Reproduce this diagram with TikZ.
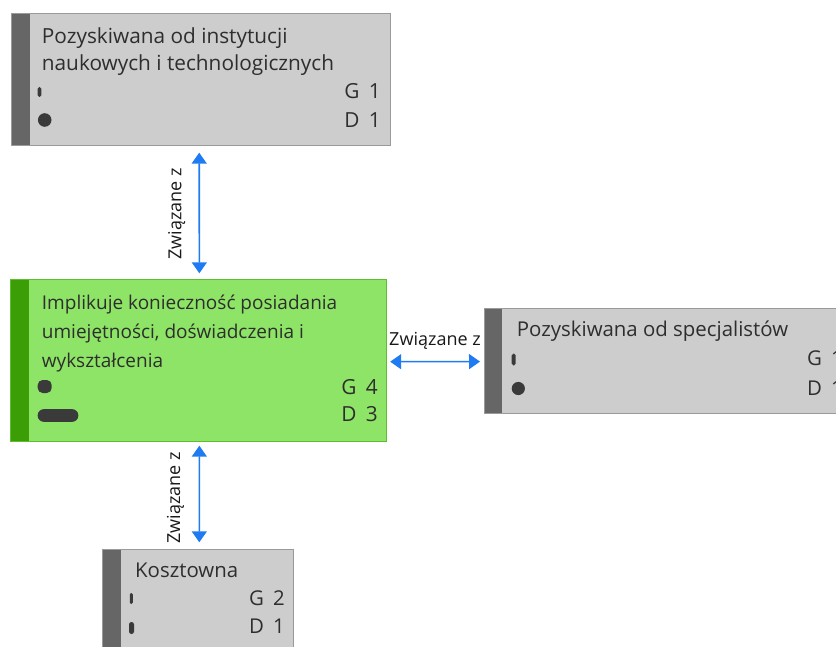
\documentclass[tikz,border=0pt]{standalone}
\usepackage{fontspec}
\setmainfont{Open Sans}
\usetikzlibrary{arrows.meta}

\definecolor{boxgray}{HTML}{CDCDCD}
\definecolor{boxedge}{HTML}{9A9A9A}
\definecolor{bargray}{HTML}{666666}
\definecolor{greenfill}{HTML}{8DE466}
\definecolor{greenedge}{HTML}{5EBE30}
\definecolor{greenbar}{HTML}{3C9E06}
\definecolor{ink}{HTML}{2E2E2E}
\definecolor{markink}{HTML}{3A3A3A}
\definecolor{linkblue}{HTML}{1E7BF2}

\tikzset{
  card/.style={draw=boxedge, fill=boxgray, line width=1pt, inner sep=0pt, outer sep=0pt,
    anchor=north west,
    path picture={\fill[bargray] (path picture bounding box.north west)
      rectangle ([xshift=18pt]path picture bounding box.south west);}},
  greencard/.style={card, draw=greenedge, fill=greenfill,
    path picture={\fill[greenbar] (path picture bounding box.north west)
      rectangle ([xshift=19pt]path picture bounding box.south west);}},
  txt/.style={text=ink, inner sep=0pt, anchor=base west, font=\fontsize{20.4}{28}\selectfont},
  bigtxt/.style={txt, font=\fontsize{20.8}{28}\selectfont},
  smalltxt/.style={txt, font=\fontsize{19}{28}\selectfont},
  count/.style={anchor=base east},
  lbl/.style={text=black!90, inner sep=0pt, font=\fontsize{18}{22}\selectfont},
  dot/.style={fill=markink},
  link/.style={draw=linkblue, line width=1.6pt,
    {Triangle[width=15pt,length=11pt]}-{Triangle[width=15pt,length=11pt]}},
}

\begin{document}
\begin{tikzpicture}[x=1pt, y=-1pt]
\useasboundingbox (0,0) rectangle (836,647);
\clip (0,0) rectangle (836,647);

% boxes
\node[card, minimum width=379pt, minimum height=132.4pt] (top) at (11.7,13.3) {};
\node[greencard, minimum width=376.7pt, minimum height=162.4pt] (mid) at (10,279.3) {};
\node[card, minimum width=367pt, minimum height=105pt] (right) at (484.3,308.3) {};
\node[card, minimum width=190.6pt, minimum height=130pt] (low) at (102.7,549.3) {};

% top box content
\node[bigtxt] (top1) at (41.7,43.3) {Pozyskiwana od instytucji};
\node[bigtxt] (top2) at (41.7,71) {naukowych i technologicznych};
\node[bigtxt, count] (topg) at (381,98.3) {G\hspace{0.45em}1};
\node[bigtxt, count] (topd) at (381,128) {D\hspace{0.45em}1};
\fill[dot, rounded corners=1.7pt] (37.7,87) rectangle (41.3,97);
\fill[dot] (44.7,120) circle (6.8pt);

% green box content
\node[smalltxt] (mid1) at (41.7,310) {Implikuje konieczność posiadania};
\node[smalltxt] (mid2) at (41.7,338.3) {umiejętności, doświadczenia i};
\node[smalltxt] (mid3) at (41.7,367) {wykształcenia};
\node[bigtxt, count] (midg) at (378,394) {G\hspace{0.45em}4};
\node[bigtxt, count] (midd) at (378,421.7) {D\hspace{0.45em}3};
\fill[dot, rounded corners=5pt] (37.7,380) rectangle (51.7,393);
\fill[dot, rounded corners=6pt] (37.7,409.2) rectangle (78.3,421.8);

% right box content (runs past the right edge)
\node[txt] (right1) at (516.7,336.7) {Pozyskiwana od specjalistów};
\node[txt, count] (rightg) at (843,365.7) {G\hspace{0.45em}1};
\node[txt, count] (rightd) at (843,395) {D\hspace{0.45em}1};
\fill[dot, rounded corners=1.9pt] (511.7,353.5) rectangle (515.7,365.5);
\fill[dot] (518.3,388.5) circle (6.6pt);

% bottom box content (runs past the lower edge)
\node[txt] (low1) at (135,577.3) {Kosztowna};
\node[txt, count] (lowg) at (285,605) {G\hspace{0.45em}2};
\node[txt, count] (lowd) at (285,633) {D\hspace{0.45em}1};
\fill[dot, rounded corners=1.4pt] (129.8,593) rectangle (132.8,604);
\fill[dot, rounded corners=2.4pt] (129,622) rectangle (134,634);

% connectors
\draw[link, shorten <=7pt, shorten >=6pt] ([xshift=-2pt]top.south) -- ([xshift=1pt]mid.north);
\draw[link, shorten <=4pt, shorten >=7pt] ([xshift=1pt]mid.south) -- ([xshift=1.3pt]low.north);
\draw[link, shorten <=3.5pt, shorten >=4.3pt] ([yshift=-1.2pt]mid.east) -- ([yshift=-0.8pt]right.west);

% connector labels
\node[lbl, rotate=90] (lab1) at (176.7,214) {Związane z};
\node[lbl, rotate=90] (lab2) at (175.5,498) {Związane z};
\node[lbl, anchor=base] (lab3) at (435,345) {Związane z};
\end{tikzpicture}
\end{document}
